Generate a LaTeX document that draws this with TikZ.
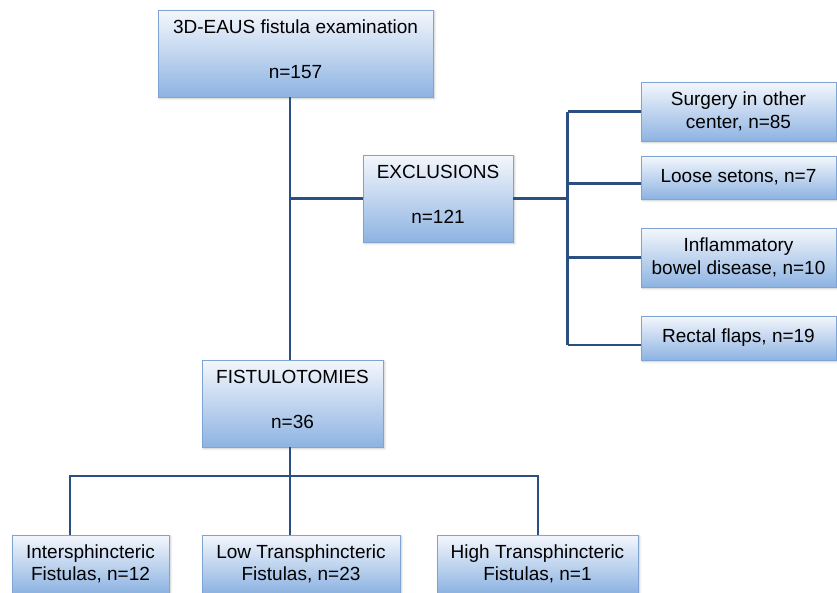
\documentclass[tikz,border=0pt]{standalone}
\usepackage{fontspec}
\setmainfont{Liberation Sans}
\usetikzlibrary{positioning, calc, shadows.blur}
\definecolor{linkblue}{HTML}{2B4F80}
\definecolor{boxtop}{HTML}{F4F7FC}
\definecolor{boxbot}{HTML}{8DB3E2}
\definecolor{boxedge}{HTML}{7FA3D3}

\newcommand{\lowdepth}{\rule[-9pt]{0pt}{0pt}}

\tikzset{
  flowbox/.style={draw=boxedge, line width=0.8pt, top color=boxtop, bottom color=boxbot,
    align=center, inner sep=0pt, font=\fontsize{19}{22.5}\selectfont,
    blur shadow={shadow xshift=1.5pt, shadow yshift=-1.5pt, shadow opacity=25, shadow blur steps=4}},
  link/.style={linkblue, line width=2.8pt}
}

\begin{document}
\begin{tikzpicture}[x=1pt, y=-1pt]
  \useasboundingbox (0,0) rectangle (837,592);

  % Main column
  \node[flowbox, minimum width=275pt, minimum height=87pt] (exam) at (295.5,53.5) {3D-EAUS fistula examination\\[22.5pt]n=157\lowdepth};
  \node[flowbox, minimum width=150pt, minimum height=87pt] (excl) at (438,198.5) {EXCLUSIONS\\[22.5pt]n=121\lowdepth};
  \node[flowbox, minimum width=181pt, minimum height=87pt] (fist) at (292.5,403.5) {FISTULOTOMIES\\[22.5pt]n=36\lowdepth};

  % Exclusion reasons
  \node[flowbox, minimum width=195pt, minimum height=59pt] (surg) at (738.5,111.5) {Surgery in other\\center, n=85};
  \node[flowbox, minimum width=195pt, minimum height=43pt] (seton) at (738.5,177.5) {Loose setons, n=7};
  \node[flowbox, minimum width=195pt, minimum height=59pt] (ibd) at (738.5,257.5) {Inflammatory\\bowel disease, n=10};
  \node[flowbox, minimum width=195pt, minimum height=44pt] (flap) at (738.5,338) {Rectal flaps, n=19};

  % Fistula types
  \node[flowbox, minimum width=157pt, minimum height=58pt] (inter) at (90.5,564) {Intersphincteric\\Fistulas, n=12};
  \node[flowbox, minimum width=198pt, minimum height=58pt] (low) at (301,564) {Low Transphincteric\\Fistulas, n=23};
  \node[flowbox, minimum width=201pt, minimum height=58pt] (high) at (537.5,564) {High Transphincteric\\Fistulas, n=1};

  % Bus lines
  \coordinate (trunkx) at (290,0);
  \coordinate (rbusx) at (567.5,0);
  \coordinate (ldrop) at (70,476);
  \coordinate (rdrop) at (538,476);

  \draw[link] (exam.south -| trunkx) -- (fist.north -| trunkx);
  \draw[link] (trunkx |- excl.west) -- (excl.west);
  \draw[link] (excl.east) -- (rbusx |- excl.east);
  \draw[link] (rbusx |- surg.west) -- ([yshift=-7pt]rbusx |- flap.west);
  \draw[link] (rbusx |- surg.west) -- (surg.west);
  \draw[link] ([yshift=-6pt]seton.west) coordinate (sw) -- (rbusx |- sw);
  \draw[link] (rbusx |- ibd.west) -- (ibd.west);
  \draw[link] ([yshift=-7pt]flap.west) coordinate (fw) -- (rbusx |- fw);

  \draw[link] (fist.south -| trunkx) -- (low.north -| trunkx);
  \draw[link] (inter.north -| ldrop) -- (ldrop) -- (rdrop) -- (high.north -| rdrop);
\end{tikzpicture}
\end{document}
